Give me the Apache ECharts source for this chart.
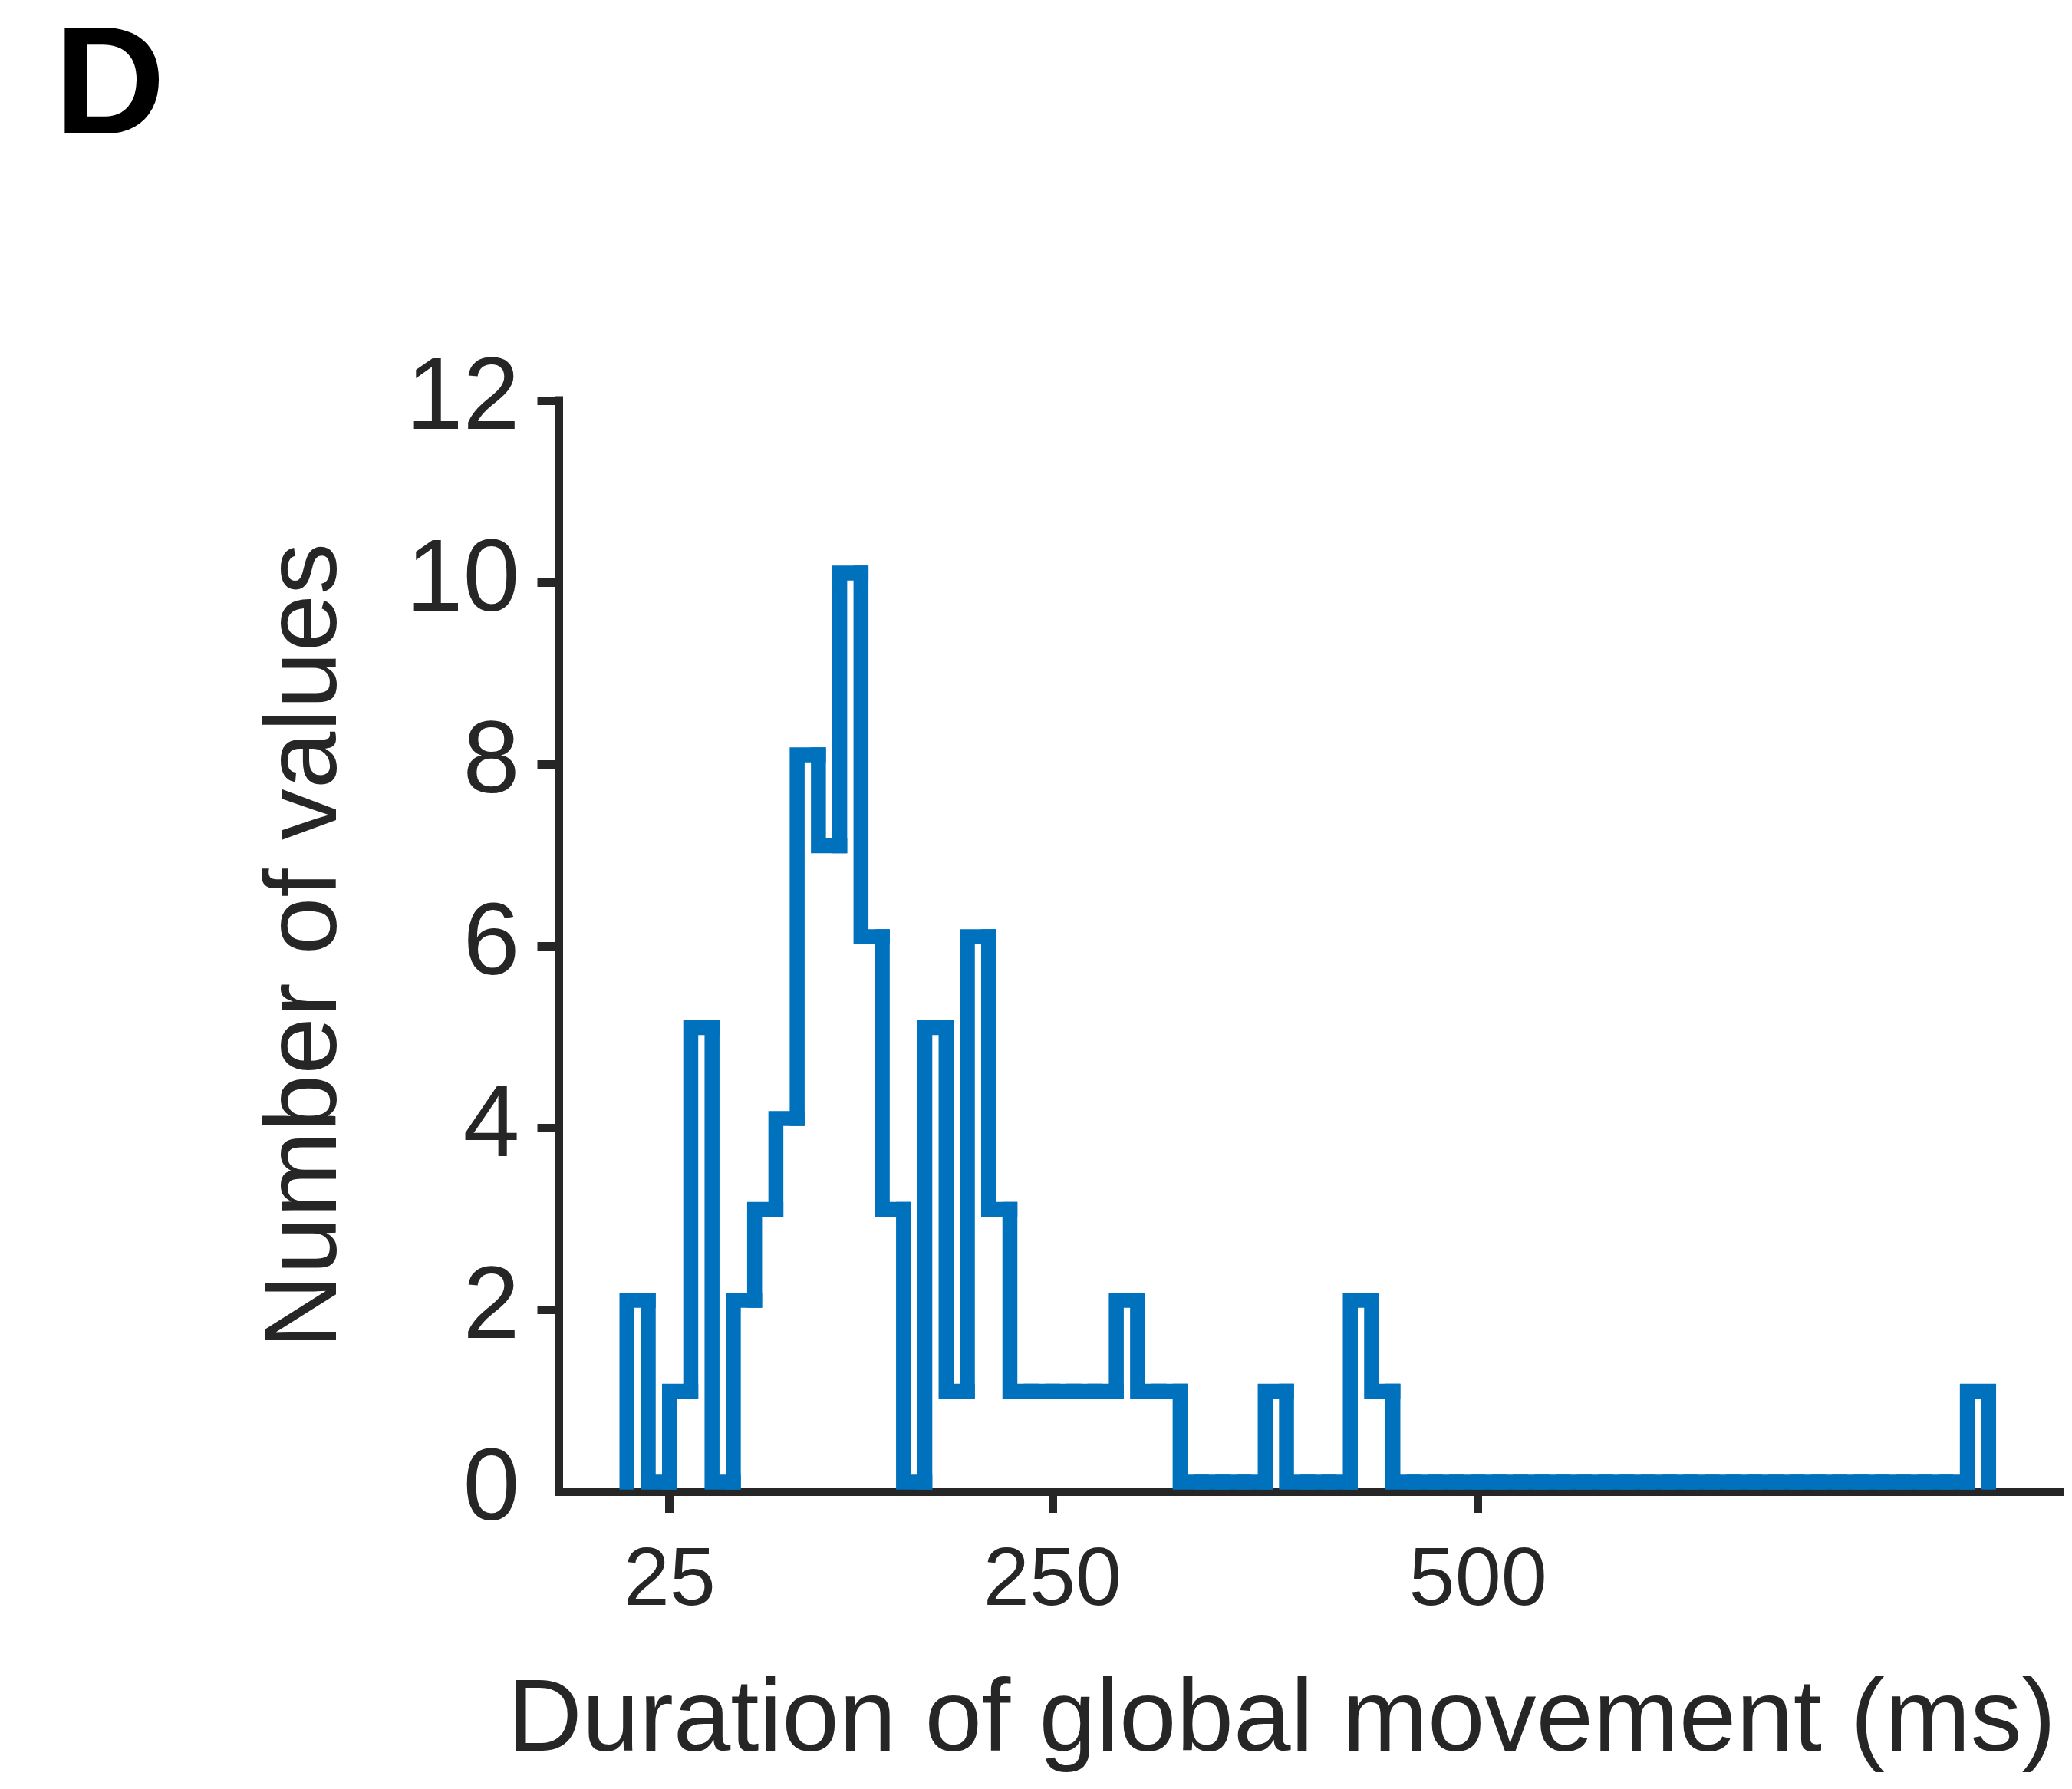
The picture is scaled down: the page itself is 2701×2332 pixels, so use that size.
<!DOCTYPE html>
<html>
<head>
<meta charset="utf-8">
<title>Duration of global movement</title>
<script src="https://cdn.jsdelivr.net/npm/echarts@6/dist/echarts.min.js"></script>
<style>
  html, body { margin: 0; padding: 0; background: #fff; }
  #chart { width: 2701px; height: 2332px; }
</style>
</head>
<body>
<div id="chart"></div>
<script>
// histogram bins (ms): 12.5 ms wide, starting at 0
const binWidth = 12.5;
const firstEdge = 0;
// counts per bin
const binCounts = [
  2, 0, 1, 5, 0, 2, 3, 4, 8, 7, 10, 6, 3, 0, 5, 1,
  6, 3, 1, 1, 1, 1, 1, 2, 1, 1, 0, 0, 0, 0, 1, 0,
  0, 0, 2, 1, 0, 0, 0, 0, 0, 0, 0, 0, 0, 0, 0, 0,
  0, 0, 0, 0, 0, 0, 0, 0, 0, 0, 0, 0, 0, 0, 0, 1
];
const xTicks = [25, 250, 500];
const yTicks = [0, 2, 4, 6, 8, 10, 12];

const BLUE = '#0072BD';
const AXIS = '#262626';
const FONT = '"Liberation Sans", Helvetica, Arial, sans-serif';
// the stairs sit slightly above the x axis line in the original
const STAIR_SHIFT = -12;

let chart = echarts.init(document.getElementById('chart'));

let binData = binCounts.map((c, i) => {
  let left = firstEdge + i * binWidth;
  return [left, left + binWidth, c];
});

chart.setOption({
  animation: false,
  backgroundColor: '#fff',
  title: {
    text: 'D',
    left: 71,
    top: 19,
    padding: 0,
    textStyle: {fontFamily: FONT, fontSize: 200, fontWeight: 'bold', color: '#000'}
  },
  grid: {
    left: 728.5,
    right: 15.5,
    top: 522,
    bottom: 388,
    containLabel: false
  },
  xAxis: {
    type: 'value',
    min: -40,
    max: 842,
    name: 'Duration of global movement (ms)',
    nameLocation: 'middle',
    nameGap: 234,
    nameTextStyle: {fontFamily: FONT, fontSize: 134, color: AXIS, padding: [0, 72, 0, 0]},
    splitLine: {show: false},
    axisLine: {onZero: false, lineStyle: {color: AXIS, width: 11, cap: 'square'}},
    axisTick: {show: true, inside: false, length: 28, customValues: xTicks,
      lineStyle: {color: AXIS, width: 11}},
    axisLabel: {customValues: xTicks, margin: 64, fontFamily: FONT, fontSize: 108, color: AXIS}
  },
  yAxis: {
    type: 'value',
    min: 0,
    max: 12,
    interval: 2,
    name: 'Number of values',
    nameLocation: 'middle',
    nameGap: 260,
    nameTextStyle: {fontFamily: FONT, fontSize: 134, color: AXIS},
    splitLine: {show: false},
    axisLine: {show: true, onZero: false, lineStyle: {color: AXIS, width: 11, cap: 'square'}},
    // no tick mark at 0 in the original
    axisTick: {show: true, inside: false, length: 28, customValues: yTicks.slice(1),
      lineStyle: {color: AXIS, width: 11}},
    axisLabel: {customValues: yTicks, margin: 51, fontFamily: FONT, fontSize: 133, color: AXIS}
  },
  series: [{
    type: 'custom',
    clip: false,
    data: binData,
    encode: {x: [0, 1], y: 2},
    renderItem: function (params, api) {
      const i = params.dataIndex;
      const left = api.value(0);
      const right = api.value(1);
      const cur = api.value(2);
      const prev = i > 0 ? binCounts[i - 1] : 0;
      let pts = [];
      if (prev !== cur) pts.push(api.coord([left, prev]));
      pts.push(api.coord([left, cur]));
      pts.push(api.coord([right, cur]));
      // close the last bin back down to zero
      if (i === binCounts.length - 1 && cur !== 0) pts.push(api.coord([right, 0]));
      return {
        type: 'polyline',
        y: STAIR_SHIFT,
        shape: {points: pts},
        style: {stroke: BLUE, fill: 'none', lineWidth: 19.5, lineCap: 'square', lineJoin: 'miter'}
      };
    }
  }]
});
</script>
</body>
</html>
